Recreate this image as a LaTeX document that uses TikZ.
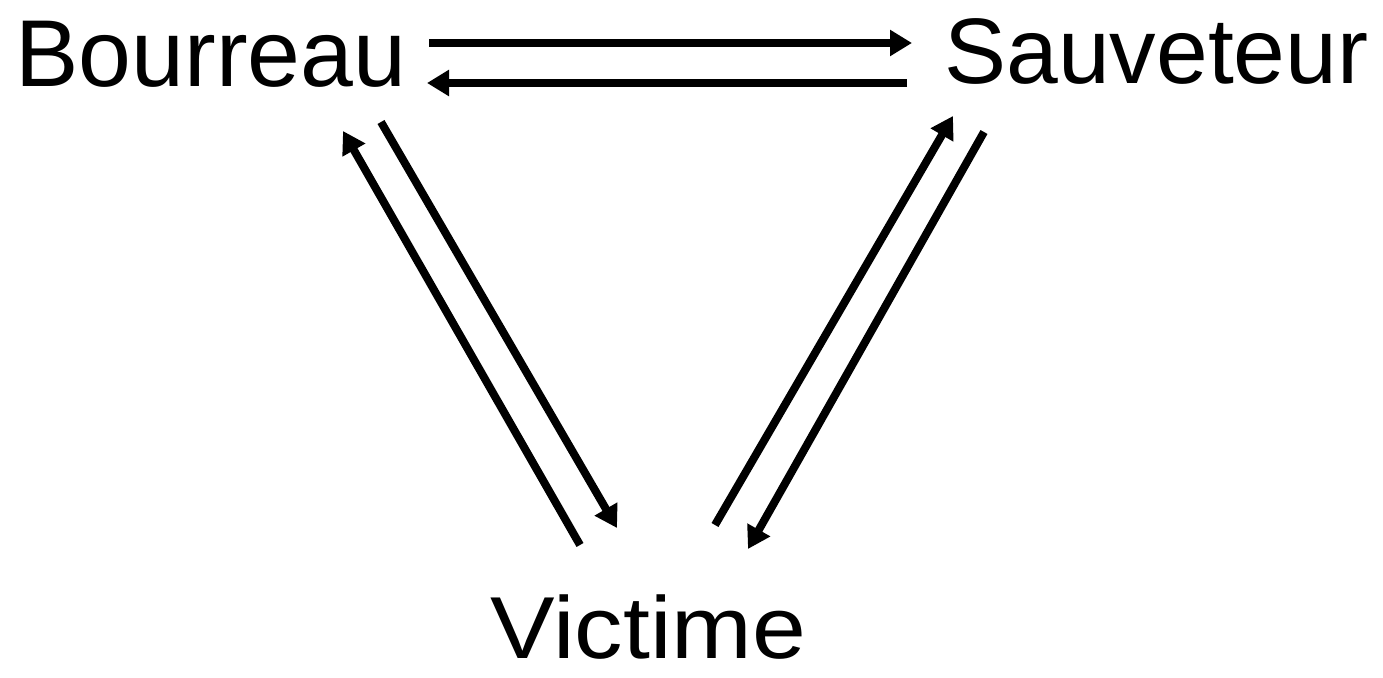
\documentclass[tikz,border=0pt]{standalone}
\usepackage{fontspec}
\setmainfont{Liberation Sans}
\usetikzlibrary{arrows.meta, positioning}

\begin{document}
\begin{tikzpicture}[x=0.5pt, y=-0.5pt,
  role/.style={inner sep=0pt, anchor=base west, font=\fontsize{46.5}{50}\selectfont},
  link/.style={line width=4pt, -{Triangle[length=11pt,width=12.5pt]}}]
\useasboundingbox (0,0) rectangle (1383,678);

% Roles
\node[role, font=\fontsize{47.5}{50}\selectfont] (bour) at (15,87) {Bourreau};
\node[role] (sauv) at (944,84) {Sauveteur};
\node[role, font=\fontsize{44}{50}\selectfont, xscale=1.1] (vict) at (490,659) {Victime};

% Ends of the arrows
\coordinate (bs1) at (429,43);  \coordinate (bs2) at (912,43);
\coordinate (sb1) at (907,83);  \coordinate (sb2) at (427,83);
\coordinate (vb1) at (580,545); \coordinate (vb2) at (343,131);
\coordinate (bv1) at (381,122); \coordinate (bv2) at (617,528);
\coordinate (vs1) at (715,525); \coordinate (vs2) at (953,116);
\coordinate (sv1) at (984,132); \coordinate (sv2) at (748,549);

% Top
\draw[link] (bs1) -- (bs2);
\draw[link] (sb1) -- (sb2);

% Left
\draw[link] (vb1) -- (vb2);
\draw[link] (bv1) -- (bv2);

% Right
\draw[link] (vs1) -- (vs2);
\draw[link] (sv1) -- (sv2);
\end{tikzpicture}
\end{document}
